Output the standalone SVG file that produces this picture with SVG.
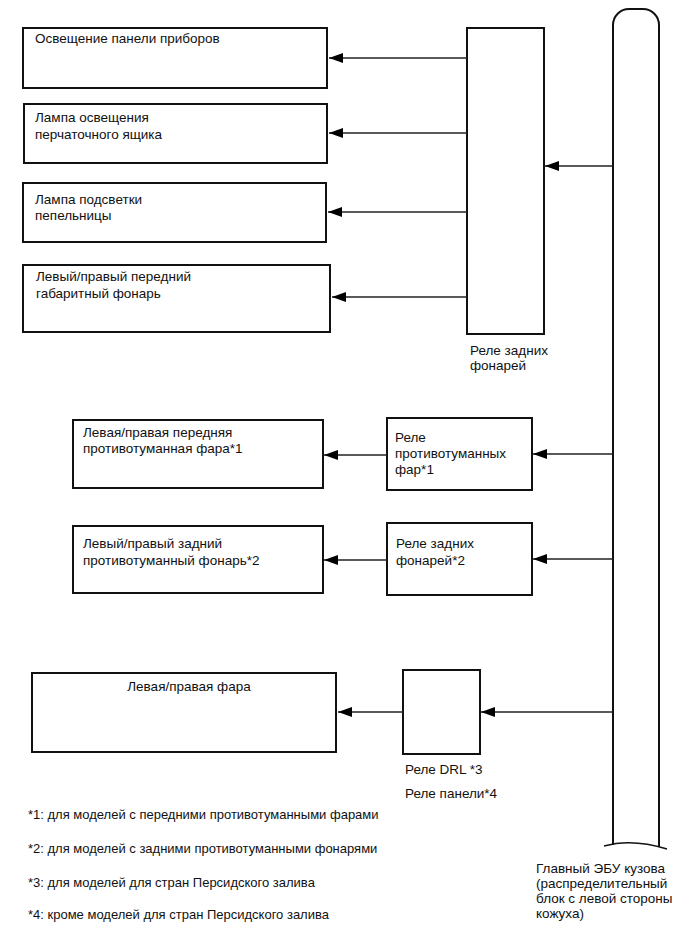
<svg xmlns="http://www.w3.org/2000/svg" width="689" height="950" viewBox="0 0 689 950">
<style>
.box{fill:#fff;stroke:#111;stroke-width:2}
.ln{fill:none;stroke:#222;stroke-width:1.3}
.t{font-family:"Liberation Sans",Arial,sans-serif;font-size:13.5px;fill:#111}
.f{font-family:"Liberation Sans",Arial,sans-serif;font-size:13px;fill:#111}
</style>
<defs>
<marker id="ah" markerUnits="userSpaceOnUse" markerWidth="14" markerHeight="10" refX="14" refY="5" orient="auto">
<path d="M0,0 L14,5 L0,10 z" fill="#000"/>
</marker>
</defs>
<rect width="689" height="950" fill="#fff"/>
<g id="n-instrument">
<rect class="box" x="23" y="28" width="304" height="60"/>
<text class="t" x="35" y="43">Освещение панели приборов</text>
</g>
<g id="n-glovebox">
<rect class="box" x="24" y="104" width="303" height="59"/>
<text class="t" x="35" y="122">Лампа освещения</text>
<text class="t" x="35" y="139">перчаточного ящика</text>
</g>
<g id="n-ashtray">
<rect class="box" x="23" y="183" width="303" height="59"/>
<text class="t" x="35" y="204">Лампа подсветки</text>
<text class="t" x="35" y="220">пепельницы</text>
</g>
<g id="n-clearance">
<rect class="box" x="23" y="265" width="307" height="67"/>
<text class="t" x="36" y="281">Левый/правый передний</text>
<text class="t" x="36" y="298">габаритный фонарь</text>
</g>
<g id="n-taillight-relay">
<rect class="box" x="467" y="28" width="77" height="306"/>
<text class="t" x="470" y="355">Реле задних</text>
<text class="t" x="470" y="370">фонарей</text>
</g>
<g id="n-frontfog">
<rect class="box" x="73" y="420" width="250" height="68"/>
<text class="t" x="83" y="437">Левая/правая передняя</text>
<text class="t" x="83" y="453">противотуманная фара*1</text>
</g>
<g id="n-fog-relay">
<rect class="box" x="387" y="418" width="145" height="72"/>
<text class="t" x="395" y="442">Реле</text>
<text class="t" x="395" y="458">противотуманных</text>
<text class="t" x="395" y="474">фар*1</text>
</g>
<g id="n-rearfog">
<rect class="box" x="73" y="526" width="250" height="67"/>
<text class="t" x="83" y="548">Левый/правый задний</text>
<text class="t" x="83" y="565">противотуманный фонарь*2</text>
</g>
<g id="n-rearfog-relay">
<rect class="box" x="387" y="523" width="145" height="72"/>
<text class="t" x="396" y="548">Реле задних</text>
<text class="t" x="396" y="565">фонарей*2</text>
</g>
<g id="n-headlamp">
<rect class="box" x="32" y="673" width="304" height="79"/>
<text class="t" x="189" y="691" text-anchor="middle">Левая/правая фара</text>
</g>
<g id="n-drl-relay">
<rect class="box" x="403" y="670" width="77" height="84"/>
<text class="t" x="405" y="774">Реле DRL *3</text>
<text class="t" x="405" y="798">Реле панели*4</text>
</g>
<g id="n-main-ecu">
<path class="box" fill="none" d="M613,845 L613,25 A16,16 0 0 1 629,9 L643,9 A16,16 0 0 1 659,25 L659,847"/>
<path fill="none" stroke="#111" stroke-width="1.5" d="M604,846 Q632,838 667,849"/>
<text class="t" x="536" y="873">Главный ЭБУ кузова</text>
<text class="t" x="536" y="888">(распределительный</text>
<text class="t" x="536" y="903">блок с левой стороны</text>
<text class="t" x="536" y="918">кожуха)</text>
</g>
<g id="notes">
<text class="f" x="28" y="819">*1: для моделей с передними противотуманными фарами</text>
<text class="f" x="28" y="853">*2: для моделей с задними противотуманными фонарями</text>
<text class="f" x="28" y="887">*3: для моделей для стран Персидского залива</text>
<text class="f" x="28" y="919">*4: кроме моделей для стран Персидского залива</text>
</g>
<g id="connectors">
<line class="ln" x1="467" y1="58" x2="329" y2="58" marker-end="url(#ah)"/>
<line class="ln" x1="467" y1="133" x2="329" y2="133" marker-end="url(#ah)"/>
<line class="ln" x1="467" y1="212" x2="328" y2="212" marker-end="url(#ah)"/>
<line class="ln" x1="467" y1="297" x2="332" y2="297" marker-end="url(#ah)"/>
<line class="ln" x1="613" y1="166" x2="545" y2="166" marker-end="url(#ah)"/>
<line class="ln" x1="387" y1="455" x2="324" y2="455" marker-end="url(#ah)"/>
<line class="ln" x1="613" y1="454" x2="533" y2="454" marker-end="url(#ah)"/>
<line class="ln" x1="387" y1="560" x2="324" y2="560" marker-end="url(#ah)"/>
<line class="ln" x1="613" y1="559" x2="533" y2="559" marker-end="url(#ah)"/>
<line class="ln" x1="403" y1="712" x2="338" y2="712" marker-end="url(#ah)"/>
<line class="ln" x1="613" y1="712" x2="481" y2="712" marker-end="url(#ah)"/>
</g>
</svg>
